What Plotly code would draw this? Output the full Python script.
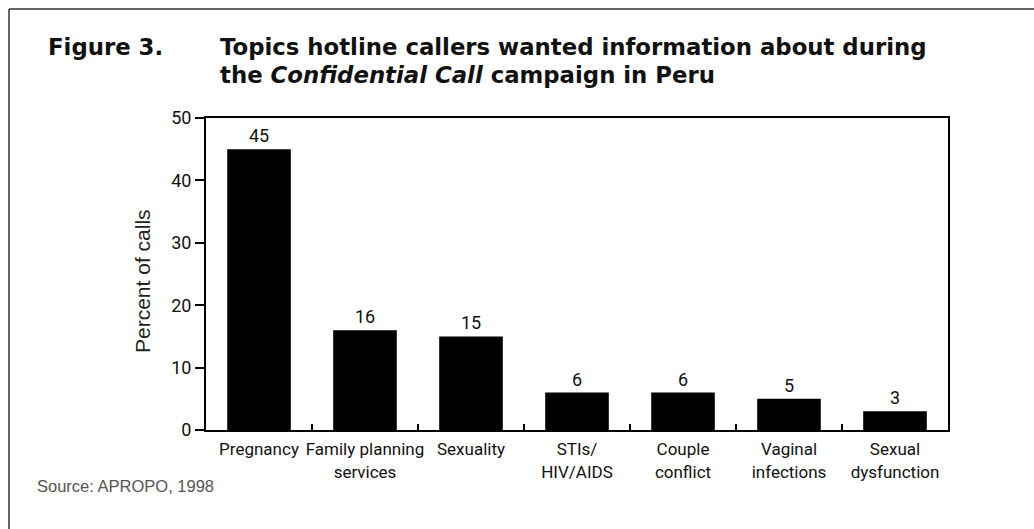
import plotly.graph_objects as go

# Topics requested by hotline callers (percent of calls)
categories = [
    "Pregnancy",
    "Family planning<br>services",
    "Sexuality",
    "STIs/<br>HIV/AIDS",
    "Couple<br>conflict",
    "Vaginal<br>infections",
    "Sexual<br>dysfunction",
]
percent_of_calls = [45, 16, 15, 6, 6, 5, 3]
y_ticks = [0, 10, 20, 30, 40, 50]

NARROW = "Roboto, Liberation Sans, sans-serif"
SANS = "Liberation Sans, Arial, Helvetica, sans-serif"
HEAVY = "DejaVu Sans, Liberation Sans, sans-serif"

# plot-area geometry in pixels, used to place page-level text
W, H = 1034, 529
L, R, T, B = 206, 948, 118, 430


def px_x(x):
    return (x - L) / (R - L)


def px_y(y):
    return (B - y) / (B - T)


fig = go.Figure(
    go.Bar(
        x=categories,
        y=percent_of_calls,
        width=0.6,
        marker=dict(color="black", line=dict(width=0)),
        text=[str(v) for v in percent_of_calls],
        textposition="outside",
        textfont=dict(family=NARROW, size=18, color="#111"),
        cliponaxis=False,
    )
)

fig.update_layout(
    width=W,
    height=H,
    margin=dict(l=L, r=W - R, t=T, b=H - B, autoexpand=False),
    paper_bgcolor="white",
    plot_bgcolor="white",
    showlegend=False,
    bargap=0.4,
    xaxis=dict(
        automargin=False,
        tickangle=0,
        showline=True,
        linecolor="black",
        linewidth=2,
        mirror=True,
        ticks="inside",
        tickson="boundaries",
        ticklen=6,
        tickwidth=2,
        tickcolor="black",
        ticklabelstandoff=3,
        showgrid=False,
        tickfont=dict(family=NARROW, size=17, color="#111"),
    ),
    yaxis=dict(
        automargin=False,
        range=[0, 50],
        tickvals=y_ticks,
        showline=True,
        linecolor="black",
        linewidth=2,
        mirror=True,
        ticks="outside",
        ticklen=9,
        tickwidth=2,
        tickcolor="black",
        showgrid=False,
        zeroline=False,
        tickfont=dict(family=NARROW, size=18, color="#111"),
    ),
)

annotations = [
    dict(
        text="<b>Figure 3.</b>",
        x=px_x(46), y=px_y(62), xanchor="left", yanchor="bottom",
        font=dict(family=HEAVY, size=22.8, color="#111"),
    ),
    dict(
        text="<b>Topics hotline callers wanted information about during</b>",
        x=px_x(218), y=px_y(62), xanchor="left", yanchor="bottom",
        font=dict(family=HEAVY, size=22.8, color="#111"),
    ),
    dict(
        text="<b>the <i>Confidential Call</i> campaign in Peru</b>",
        x=px_x(218), y=px_y(90), xanchor="left", yanchor="bottom",
        font=dict(family=HEAVY, size=22.8, color="#111"),
    ),
    dict(
        text="Percent of calls",
        textangle=-90,
        x=px_x(142), y=px_y(281), xanchor="center", yanchor="middle",
        font=dict(family=SANS, size=21, color="#222"),
    ),
    dict(
        text="Source: APROPO, 1998",
        x=px_x(35), y=px_y(486), xanchor="left", yanchor="middle",
        font=dict(family=SANS, size=16.5, color="#555"),
    ),
]
for a in annotations:
    a.update(xref="paper", yref="paper", showarrow=False)
fig.update_layout(annotations=annotations)

# open frame around the figure: top edge and left edge
fig.add_shape(type="line", xref="paper", yref="paper",
              x0=px_x(9), x1=px_x(W + 5), y0=px_y(9), y1=px_y(9),
              line=dict(color="#333", width=1.5))
fig.add_shape(type="line", xref="paper", yref="paper",
              x0=px_x(9), x1=px_x(9), y0=px_y(9), y1=px_y(H + 5),
              line=dict(color="#333", width=1.5))

fig.write_html("out.html")
